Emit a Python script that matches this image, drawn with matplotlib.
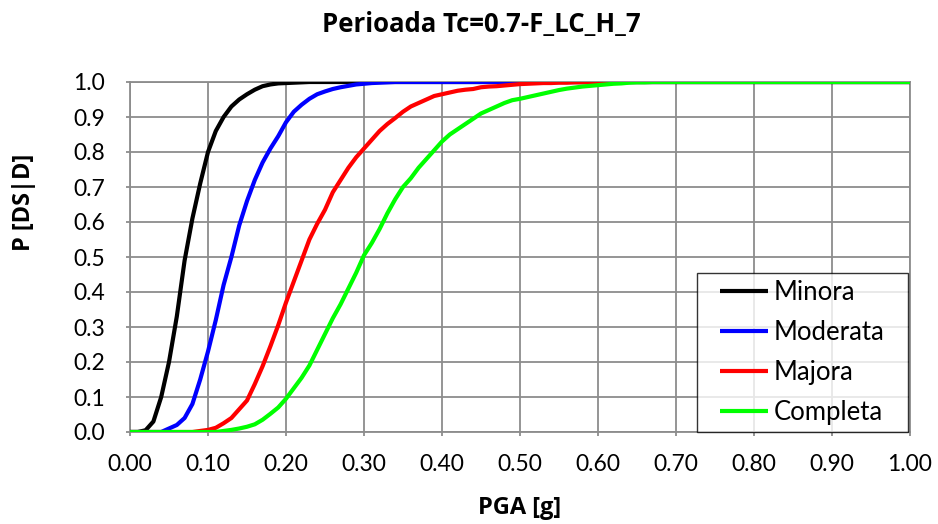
import numpy as np
import matplotlib
matplotlib.use("Agg")
import matplotlib.pyplot as plt
from matplotlib.legend_handler import HandlerLine2D
from matplotlib.lines import Line2D

plt.rcParams['font.family'] = ['Lato', 'DejaVu Sans']
LABEL_FONT = ['Open Sans', 'DejaVu Sans']

# PGA sampling grid [g]
pga = np.round(np.arange(0.0, 0.705, 0.01), 2).tolist() + [1.00]

minora = [0.0, 0.0, 0.005, 0.03, 0.10, 0.20, 0.33, 0.49, 0.61, 0.71,
          0.80, 0.86, 0.90, 0.93, 0.95, 0.965, 0.978, 0.988, 0.993, 0.996,
          0.997, 0.998, 0.999] + [1.0] * 49

moderata = [0.0, 0.0, 0.0, 0.0, 0.0, 0.01, 0.02, 0.04, 0.08, 0.15,
            0.23, 0.32, 0.42, 0.50, 0.59, 0.66, 0.72, 0.77, 0.81, 0.845,
            0.885, 0.915, 0.935, 0.952, 0.965, 0.973, 0.98, 0.985, 0.989, 0.993,
            0.995, 0.997, 0.998, 0.999] + [1.0] * 38

majora = [0.0, 0.0, 0.0, 0.0, 0.0, 0.0, 0.0, 0.0, 0.0, 0.003,
          0.006, 0.012, 0.025, 0.04, 0.065, 0.09, 0.137, 0.188, 0.245, 0.305,
          0.37, 0.43, 0.49, 0.55, 0.595, 0.635, 0.685, 0.72, 0.755, 0.785,
          0.81, 0.835, 0.86, 0.88, 0.897, 0.915, 0.93, 0.94, 0.95, 0.96,
          0.965, 0.97, 0.975, 0.978, 0.98, 0.985, 0.987, 0.988, 0.99, 0.992,
          0.994, 0.995, 0.996, 0.997, 0.997, 0.998, 0.998, 0.999, 0.999, 0.999,
          0.999] + [1.0] * 11

completa = [0.0, 0.0, 0.0, 0.0, 0.0, 0.0, 0.0, 0.0, 0.0, 0.0,
            0.0, 0.0, 0.003, 0.006, 0.01, 0.015, 0.022, 0.035, 0.052, 0.07,
            0.095, 0.125, 0.155, 0.19, 0.235, 0.28, 0.325, 0.365, 0.41, 0.455,
            0.505, 0.54, 0.58, 0.625, 0.665, 0.70, 0.725, 0.755, 0.78, 0.805,
            0.83, 0.85, 0.865, 0.88, 0.895, 0.91, 0.92, 0.93, 0.94, 0.948,
            0.952, 0.957, 0.962, 0.967, 0.972, 0.977, 0.981, 0.984, 0.987, 0.989,
            0.991, 0.993, 0.995, 0.996, 0.998, 0.999, 0.999] + [1.0] * 5

series = [("Minora", minora, "#000000"),
          ("Moderata", moderata, "#0000FF"),
          ("Majora", majora, "#FF0000"),
          ("Completa", completa, "#00FF00")]

x_ticks = np.round(np.arange(0, 1.001, 0.1), 2)
y_ticks = np.round(np.arange(0, 1.001, 0.1), 1)

W, H = 938, 524
fig = plt.figure(figsize=(W / 100, H / 100), dpi=100)
ax = fig.add_axes([130 / W, 1 - 432 / H, 780 / W, 350 / H])

for name, vals, col in series:
    ax.plot(pga, vals, color=col, lw=3.0, label=name, solid_capstyle='butt', zorder=3)

ax.set_xlim(0, 1)
ax.set_ylim(0, 1)
ax.set_xticks(x_ticks)
ax.set_yticks(y_ticks)
ax.set_xticklabels([f"{v:.2f}" for v in x_ticks])
ax.set_yticklabels([f"{v:.1f}" for v in y_ticks])
ax.grid(True, color='#8c8c8c', lw=1.3)
ax.set_axisbelow(True)
for s in ax.spines.values():
    s.set_color('#8c8c8c')
    s.set_linewidth(1.3)
ax.tick_params(axis='both', colors='#8c8c8c', labelcolor='black', labelsize=16.5,
               length=3, width=1.3, direction='out')
ax.tick_params(axis='x', pad=13)
ax.tick_params(axis='y', pad=15)

fig.text(520 / W, 1 - 508 / H, "PGA [g]", fontsize=17, fontweight='bold',
         ha='center', va='center', family=LABEL_FONT)
fig.text(24 / W, 1 - 202 / H, "P [DS|D]", fontsize=17, fontweight='bold',
         ha='center', va='center', rotation=90, family=LABEL_FONT)
fig.text(481 / W, 1 - 24 / H, "Perioada Tc=0.7-F_LC_H_7", fontsize=18.5,
         fontweight='bold', ha='center', va='center', family=LABEL_FONT)

fs_leg = 18.5
handler = {Line2D: HandlerLine2D(xpad=0.62)}
leg = ax.legend(loc='lower right', bbox_to_anchor=(0.727, 0.0, 0.2705, 0.6),
                mode='expand', borderaxespad=0, fontsize=fs_leg, frameon=True,
                fancybox=False, edgecolor='black', handlelength=2.5,
                handletextpad=0.2, labelspacing=0.58, borderpad=0.28,
                handler_map=handler)
leg.get_frame().set_linewidth(1.0)
leg.set_zorder(5)

fig.savefig("out.png", dpi=100)
